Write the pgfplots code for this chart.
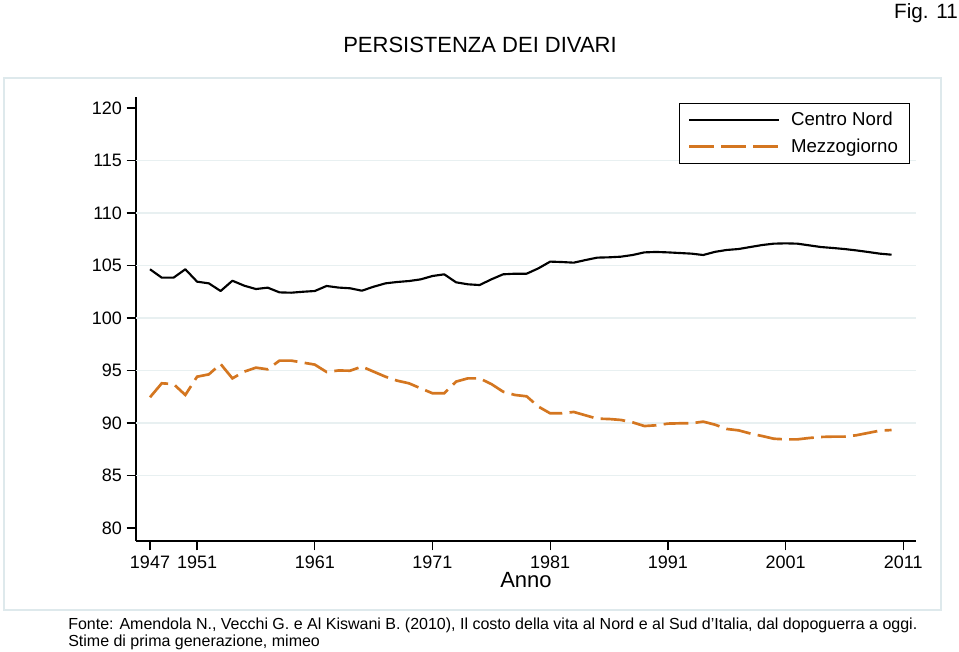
\documentclass[border=0pt]{standalone}
\usepackage{fontspec}
\setmainfont{Liberation Sans}
\usepackage{pgfplots}
\pgfplotsset{compat=1.18}
\usepackage{pgfplotstable}
\definecolor{mezz}{RGB}{212,118,32}
\definecolor{gridc}{RGB}{232,240,241}
\definecolor{framec}{RGB}{222,233,236}

\pgfplotstableread{
anno val
1947 104.64
1948 103.84
1949 103.84
1950 104.64
1951 103.46
1952 103.30
1953 102.57
1954 103.55
1955 103.08
1956 102.76
1957 102.89
1958 102.44
1959 102.41
1960 102.50
1961 102.57
1962 103.05
1963 102.90
1964 102.83
1965 102.60
1966 102.98
1967 103.30
1968 103.43
1969 103.52
1970 103.68
1971 104.00
1972 104.16
1973 103.40
1974 103.21
1975 103.14
1976 103.68
1977 104.16
1978 104.22
1979 104.22
1980 104.73
1981 105.37
1982 105.33
1983 105.27
1984 105.52
1985 105.75
1986 105.78
1987 105.84
1988 106.00
1989 106.25
1990 106.29
1991 106.25
1992 106.19
1993 106.13
1994 106.00
1995 106.30
1996 106.48
1997 106.57
1998 106.76
1999 106.95
2000 107.08
2001 107.11
2002 107.08
2003 106.92
2004 106.76
2005 106.67
2006 106.57
2007 106.44
2008 106.29
2009 106.13
2010 106.03
}\centronord

\pgfplotstableread{
anno val
1947 92.45
1948 93.78
1949 93.71
1950 92.67
1951 94.41
1952 94.63
1953 95.62
1954 94.25
1955 94.89
1956 95.27
1957 95.11
1958 95.94
1959 95.94
1960 95.75
1961 95.56
1962 94.86
1963 95.00
1964 94.98
1965 95.37
1966 94.89
1967 94.41
1968 94.03
1969 93.78
1970 93.30
1971 92.83
1972 92.83
1973 93.94
1974 94.25
1975 94.25
1976 93.71
1977 92.98
1978 92.67
1979 92.54
1980 91.56
1981 90.92
1982 90.92
1983 91.05
1984 90.73
1985 90.41
1986 90.38
1987 90.29
1988 90.06
1989 89.71
1990 89.78
1991 89.94
1992 89.97
1993 89.97
1994 90.13
1995 89.84
1996 89.43
1997 89.30
1998 89.00
1999 88.76
2000 88.50
2001 88.44
2002 88.44
2003 88.57
2004 88.67
2005 88.70
2006 88.70
2007 88.83
2008 89.05
2009 89.27
2010 89.33
}\mezzogiorno

\begin{document}
\begin{tikzpicture}
\useasboundingbox (0pt,0pt) rectangle (719.25pt,489pt);
% Stata graph region frame
\draw[framec, line width=1.5pt] (3pt,31.5pt) rectangle (706pt,430.5pt);
% title and figure number
\node[anchor=base, inner sep=0pt, font=\fontsize{16.5}{19}\selectfont] at (360pt,449.25pt) {PERSISTENZA DEI DIVARI};
\node[anchor=base east, inner sep=0pt, font=\fontsize{15.5}{18}\selectfont] at (718.5pt,474.75pt) {Fig. 11};
% footer
\node[anchor=base west, inner sep=0pt, font=\fontsize{12}{14}\selectfont] at (51pt,16.9pt) {Fonte: Amendola N., Vecchi G. e Al Kiswani B. (2010), Il costo della vita al Nord e al Sud d’Italia, dal dopoguerra a oggi.};
\node[anchor=base west, inner sep=0pt, font=\fontsize{12}{14}\selectfont] at (51pt,4.1pt) {Stime di prima generazione, mimeo};

\begin{axis}[
  at={(102pt,83.25pt)}, anchor=south west,
  scale only axis, width=585pt, height=333pt,
  xmin=1945.81, xmax=2012.08,
  ymin=78.76, ymax=121.05,
  axis x line*=bottom, axis y line*=left,
  axis line style={-, line width=1.1pt, black},
  xtick={1947,1951,1961,1971,1981,1991,2001,2011},
  ytick={80,85,...,120},
  extra y ticks={85,90,...,115},
  extra y tick labels={},
  extra y tick style={ymajorgrids=true, major tick length=0pt},
  major grid style={gridc, line width=1.4pt},
  tick align=outside,
  major tick length=7pt,
  minor tick num=0,
  every tick/.style={black, line width=1pt},
  /pgf/number format/assume math mode=true,
  /pgf/number format/1000 sep={},
  tick label style={font=\fontsize{13.5}{16}\selectfont},
  x tick label style={inner ysep=1pt, yshift=-3pt},
  xlabel={Anno},
  xlabel style={font=\fontsize{16.5}{20}\selectfont, inner sep=0pt,
    at={(axis description cs:0.5,0)}, anchor=north, yshift=-23.5pt},
  legend style={at={(0.992,0.9865)}, anchor=north east, draw=black, line width=0.8pt,
    font=\fontsize{14}{16}\selectfont, inner xsep=6.5pt, inner ysep=4.5pt,
    row sep=4.5pt, column sep=5.75pt, cells={anchor=west}},
  legend cell align=left,
  legend image code/.code={\draw[#1] (0pt,0pt) -- (67.5pt,0pt);},
  clip=false,
]
\addplot[black, line width=1.6pt, line join=round] table[x=anno, y=val] {\centronord};
\addlegendentry{Centro Nord}
\addplot[mezz, line width=2pt, dash pattern=on 18.5pt off 5.5pt] table[x=anno, y=val] {\mezzogiorno};
\addlegendentry{Mezzogiorno}
\end{axis}
\end{tikzpicture}
\end{document}
